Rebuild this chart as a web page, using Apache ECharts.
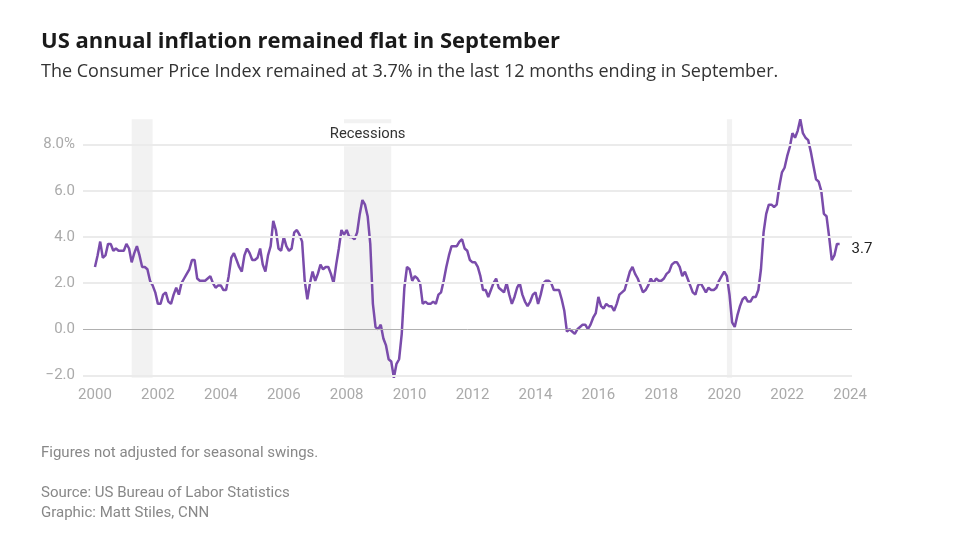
<!DOCTYPE html>
<html>
<head>
<meta charset="utf-8">
<script src="https://cdn.jsdelivr.net/npm/echarts@6/dist/echarts.min.js"></script>
<style>
html,body{margin:0;padding:0;background:#fff;}
#chart{width:953px;height:558px;}
</style>
</head>
<body>
<div id="chart"></div>
<script>
// Monthly CPI, 12-month % change, not seasonally adjusted, Jan 2000 - Sep 2023
const startYear = 2000;
const cpi = [
  2.7, 3.2, 3.8, 3.1, 3.2, 3.7, 3.7, 3.4, 3.5, 3.4, 3.4, 3.4,   // 2000
  3.7, 3.5, 2.9, 3.3, 3.6, 3.2, 2.7, 2.7, 2.6, 2.1, 1.9, 1.6,   // 2001
  1.1, 1.1, 1.5, 1.6, 1.2, 1.1, 1.5, 1.8, 1.5, 2.0, 2.2, 2.4,   // 2002
  2.6, 3.0, 3.0, 2.2, 2.1, 2.1, 2.1, 2.2, 2.3, 2.0, 1.8, 1.9,   // 2003
  1.9, 1.7, 1.7, 2.3, 3.1, 3.3, 3.0, 2.7, 2.5, 3.2, 3.5, 3.3,   // 2004
  3.0, 3.0, 3.1, 3.5, 2.8, 2.5, 3.2, 3.6, 4.7, 4.3, 3.5, 3.4,   // 2005
  4.0, 3.6, 3.4, 3.5, 4.2, 4.3, 4.1, 3.8, 2.1, 1.3, 2.0, 2.5,   // 2006
  2.1, 2.4, 2.8, 2.6, 2.7, 2.7, 2.4, 2.0, 2.8, 3.5, 4.3, 4.1,   // 2007
  4.3, 4.0, 4.0, 3.9, 4.2, 5.0, 5.6, 5.4, 4.9, 3.7, 1.1, 0.1,   // 2008
  0.0, 0.2, -0.4, -0.7, -1.3, -1.4, -2.1, -1.5, -1.3, -0.2, 1.8, 2.7, // 2009
  2.6, 2.1, 2.3, 2.2, 2.0, 1.1, 1.2, 1.1, 1.1, 1.2, 1.1, 1.5,   // 2010
  1.6, 2.1, 2.7, 3.2, 3.6, 3.6, 3.6, 3.8, 3.9, 3.5, 3.4, 3.0,   // 2011
  2.9, 2.9, 2.7, 2.3, 1.7, 1.7, 1.4, 1.7, 2.0, 2.2, 1.8, 1.7,   // 2012
  1.6, 2.0, 1.5, 1.1, 1.4, 1.8, 2.0, 1.5, 1.2, 1.0, 1.2, 1.5,   // 2013
  1.6, 1.1, 1.5, 2.0, 2.1, 2.1, 2.0, 1.7, 1.7, 1.7, 1.3, 0.8,   // 2014
  -0.1, 0.0, -0.1, -0.2, 0.0, 0.1, 0.2, 0.2, 0.0, 0.2, 0.5, 0.7, // 2015
  1.4, 1.0, 0.9, 1.1, 1.0, 1.0, 0.8, 1.1, 1.5, 1.6, 1.7, 2.1,   // 2016
  2.5, 2.7, 2.4, 2.2, 1.9, 1.6, 1.7, 1.9, 2.2, 2.0, 2.2, 2.1,   // 2017
  2.1, 2.2, 2.4, 2.5, 2.8, 2.9, 2.9, 2.7, 2.3, 2.5, 2.2, 1.9,   // 2018
  1.6, 1.5, 1.9, 2.0, 1.8, 1.6, 1.8, 1.7, 1.7, 1.8, 2.1, 2.3,   // 2019
  2.5, 2.3, 1.5, 0.3, 0.1, 0.6, 1.0, 1.3, 1.4, 1.2, 1.2, 1.4,   // 2020
  1.4, 1.7, 2.6, 4.2, 5.0, 5.4, 5.4, 5.3, 5.4, 6.2, 6.8, 7.0,   // 2021
  7.5, 7.9, 8.5, 8.3, 8.6, 9.1, 8.5, 8.3, 8.2, 7.7, 7.1, 6.5,   // 2022
  6.4, 6.0, 5.0, 4.9, 4.0, 3.0, 3.2, 3.7, 3.7                   // 2023
];
// Recessions as [start, end] in decimal years (Mar-Nov 2001, Dec 2007-Jun 2009, Feb-Apr 2020)
const recessionStarts = [2001 + 2/12, 2007 + 11/12, 2020 + 1/12];
const recessionEnds   = [2001 + 10/12, 2009 + 5/12, 2020 + 3/12];
const recessionLabel = 'Recessions';
const xTicks = [2000, 2002, 2004, 2006, 2008, 2010, 2012, 2014, 2016, 2018, 2020, 2022, 2024];
const yTicks = [-2, 0, 2, 4, 6, 8];

const title = 'US annual inflation remained flat in September';
const subtitle = 'The Consumer Price Index remained at 3.7% in the last 12 months ending in September.';
const note = 'Figures not adjusted for seasonal swings.';
const source = 'Source: US Bureau of Labor Statistics\nGraphic: Matt Stiles, CNN';

const points = cpi.map((v, i) => [startYear + i / 12, v]);
const lastVal = cpi[cpi.length - 1];

const FONT = 'Roboto, "Liberation Sans", Arial, sans-serif';
const HEAD_FONT = '"Open Sans", Roboto, sans-serif';

const chart = echarts.init(document.getElementById('chart'), null, {renderer: 'canvas'});
chart.setOption({
  animation: false,
  backgroundColor: '#fff',
  textStyle: {fontFamily: FONT},
  title: [
    {text: title, left: 41, top: 31, padding: 0, textStyle: {fontSize: 22, fontWeight: 'bold', color: '#1a1a1a', fontFamily: HEAD_FONT}},
    {text: subtitle, left: 41, top: 63, padding: 0, textStyle: {fontSize: 18, fontWeight: 'normal', color: '#333', fontFamily: HEAD_FONT}},
    {text: note, left: 41, top: 446, padding: 0, textStyle: {fontSize: 15, fontWeight: 'normal', color: '#888', fontFamily: FONT}},
    {text: source, left: 41, top: 483, padding: 0, textStyle: {fontSize: 15, fontWeight: 'normal', color: '#888', lineHeight: 20, fontFamily: FONT}}
  ],
  grid: {left: 83, right: 101, top: 119.3, bottom: 180.3, containLabel: false},
  xAxis: {
    type: 'value',
    min: 1999.62,
    max: 2024.06,
    axisLine: {show: false},
    axisTick: {show: false},
    splitLine: {show: false},
    axisLabel: {
      customValues: xTicks,
      color: '#aaa',
      fontSize: 15,
      margin: 10,
      formatter: v => String(Math.round(v))
    }
  },
  yAxis: {
    type: 'value',
    min: -2.1,
    max: 9.1,
    axisLine: {show: false},
    axisTick: {show: false},
    splitLine: {show: false},
    axisLabel: {
      customValues: yTicks,
      color: '#aaa',
      fontSize: 15,
      margin: 8,
      formatter: v => {
        const s = Math.abs(v).toFixed(1);
        const t = (v < 0 ? '\u2212' : '') + s;
        return v === 8 ? t + '%' : t;
      }
    }
  },
  series: [
    {
      type: 'line',
      data: points,
      symbol: 'none',
      silent: true,
      z: 1,
      lineStyle: {opacity: 0},
      markArea: {
        silent: true,
        itemStyle: {color: '#f2f2f2'},
        label: {show: false},
        data: recessionStarts.map((s, i) => [
          i === 1
            ? {xAxis: s, name: recessionLabel, label: {show: true, position: 'insideTop', distance: 4, color: '#333', fontSize: 14.8, backgroundColor: '#fff', padding: [4, 5, 4, 5], fontFamily: FONT}}
            : {xAxis: s},
          {xAxis: recessionEnds[i]}
        ])
      },
      markLine: {
        silent: true,
        symbol: 'none',
        label: {show: false},
        data: yTicks.map(v => ({
          yAxis: v,
          lineStyle: {color: v === 0 ? '#b0b0b0' : '#ebebeb', width: v === 0 ? 1 : 2, type: 'solid'}
        }))
      }
    },
    {
      type: 'line',
      data: points,
      symbol: 'none',
      z: 3,
      lineStyle: {color: '#7a4cab', width: 2.5},
      endLabel: {
        show: true,
        formatter: () => String(lastVal),
        color: '#222',
        fontSize: 15,
        distance: 12,
        offset: [0, 5]
      }
    }
  ]
});
</script>
</body>
</html>
